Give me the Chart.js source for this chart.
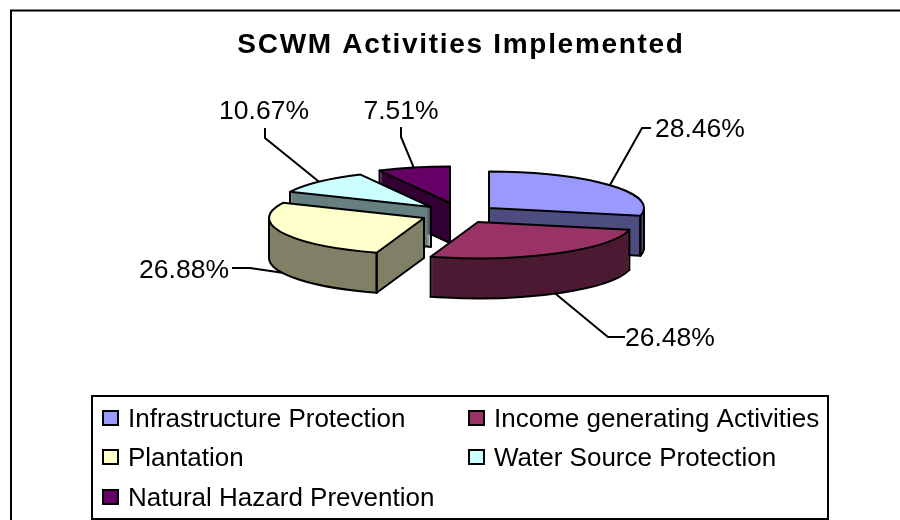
<!DOCTYPE html>
<html>
<head>
<meta charset="utf-8">
<style>html,body{margin:0;padding:0;background:#fff}canvas{display:block}</style>
<script src="https://cdn.jsdelivr.net/npm/chart.js@4"></script>
</head>
<body>
<canvas id="c" width="900" height="520"></canvas>
<script>
const categories = ['Infrastructure Protection','Income generating Activities','Plantation','Water Source Protection','Natural Hazard Prevention'];
const shares = [28.46,26.48,26.88,10.67,7.51];
const chartTitle = 'SCWM Activities Implemented';
const faceColors = ['#9999ff','#993366','#ffffcc','#ccffff','#660066'];
const wallColors = ['#4d4d80','#4d1a33','#808066','#668080','#330033'];

// layout of the exploded 3D look
const apexes = [[489,208],[478,222],[424,218],[431,207],[450,203]];
const paintOrder = [4,3,0,2,1];
const TILT = 0.235, DEPTH = 40, RADIUS = 155;
const labelAnchors = [[655,130],[625,339],[229,271],[264,112],[401,112]];
const labelAligns = ['left','left','right','center','center'];
const leaderElbows = [[[651,128],[642,128]],[[625,337],[608,337]],[[232,268],[250,268]],[[265,128],[265,138]],[[401,127],[401,137]]];
const LABEL_FONT = '26.5px "Liberation Sans", Arial, sans-serif';
const LEGEND_FONT = '26px "Liberation Sans", Arial, sans-serif';
const legendBox = {l:92,t:396,r:828,b:519};
const legendCells = [[103,418],[469,418],[103,457],[469,457],[103,497]];
const LEGEND_TEXT_DY = 1.5;

const pie3d = {
  id:'pie3d',
  beforeDraw(chart){
    const c = chart.ctx;
    c.save();
    c.fillStyle='#fff'; c.fillRect(0,0,900,520);
    c.strokeStyle='#000'; c.lineWidth=2;
    c.beginPath(); c.moveTo(11,520); c.lineTo(11,10.5); c.lineTo(900,10.5); c.stroke();
    c.restore();
    c.letterSpacing='1.7px';
  },
  beforeDatasetsDraw(chart){
    const c = chart.ctx, arcs = chart.getDatasetMeta(0).data;
    c.letterSpacing='0px';
    const pt = (i,th,r,dy)=>[apexes[i][0]+r*Math.cos(th), apexes[i][1]+dy+TILT*r*Math.sin(th)];
    const line = (pts)=>{c.beginPath();pts.forEach((p,k)=>k?c.lineTo(p[0],p[1]):c.moveTo(p[0],p[1]));c.stroke();};
    const TAU=Math.PI*2;
    paintOrder.forEach(i=>{
      const arc = arcs[i], a=arc.startAngle, b=arc.endAngle, R=arc.outerRadius, ax=apexes[i][0], ay=apexes[i][1];
      // extruded body, drawn with the library's arc element
      const wall = Object.create(arc);
      wall.options = Object.assign({},arc.options,{backgroundColor:wallColors[i],borderWidth:0});
      for(let k=DEPTH;k>=1;k--){
        c.save();
        c.translate(ax,ay+k); c.scale(1,TILT); c.translate(-arc.x,-arc.y);
        wall.draw(c);
        c.restore();
      }
      // edges of the body
      c.save();
      c.strokeStyle='#000'; c.lineWidth=2; c.lineJoin='round'; c.lineCap='round';
      const startWall = Math.cos(a)<-1e-6, endWall = Math.cos(b)>1e-6;
      // front rim
      const from = [];
      for(let n=-1;n<=1;n++){
        const s=Math.max(a,n*TAU), e=Math.min(b,n*TAU+Math.PI);
        if(e>s) from.push([s,e]);
      }
      from.forEach(([s,e])=>{
        c.beginPath(); c.ellipse(ax,ay+DEPTH,R,R*TILT,0,s,e); c.stroke();
        [s,e].forEach(t=>{const p=pt(i,t,R,0);line([p,[p[0],p[1]+DEPTH]]);});
      });
      if(startWall){const p=pt(i,a,R,0);line([p,[p[0],p[1]+DEPTH],[ax,ay+DEPTH],[ax,ay]]);}
      if(endWall){const p=pt(i,b,R,0);line([p,[p[0],p[1]+DEPTH],[ax,ay+DEPTH],[ax,ay]]);}
      c.restore();
      // top face
      c.save();
      c.translate(ax,ay); c.scale(1,TILT); c.translate(-arc.x,-arc.y);
      arc.draw(c);
      c.restore();
      c.save();
      c.strokeStyle='#000'; c.lineWidth=2; c.lineJoin='round';
      c.beginPath(); c.moveTo(ax,ay); c.ellipse(ax,ay,R,R*TILT,0,a,b); c.closePath(); c.stroke();
      c.restore();
    });
    return false;
  },
  afterDraw(chart){
    const c = chart.ctx, arcs = chart.getDatasetMeta(0).data;
    c.save();
    c.letterSpacing='0px';
    // leaders and percentage labels
    c.strokeStyle='#000'; c.lineWidth=2; c.fillStyle='#000';
    c.font=LABEL_FONT; c.textBaseline='middle';
    shares.forEach((v,i)=>{
      const arc=arcs[i], m=(arc.startAngle+arc.endAngle)/2, R=arc.outerRadius;
      const x=apexes[i][0]+R*Math.cos(m), y=apexes[i][1]+TILT*R*Math.sin(m)+(Math.sin(m)>0?DEPTH:0);
      c.beginPath(); c.moveTo(x,y);
      leaderElbows[i].slice().reverse().forEach(p=>c.lineTo(p[0],p[1]));
      c.stroke();
      c.textAlign=labelAligns[i];
      c.fillText(v.toFixed(2)+'%',labelAnchors[i][0],labelAnchors[i][1]);
    });
    // legend
    c.lineWidth=2; c.strokeStyle='#000';
    c.strokeRect(legendBox.l,legendBox.t,legendBox.r-legendBox.l,legendBox.b-legendBox.t);
    c.font=LEGEND_FONT; c.textAlign='left';
    categories.forEach((name,i)=>{
      const [x,y]=legendCells[i];
      c.fillStyle=faceColors[i];
      c.fillRect(x,y-7,15,14);
      c.strokeRect(x,y-7,15,14);
      c.fillStyle='#000';
      c.fillText(name,x+25,y+LEGEND_TEXT_DY);
    });
    c.restore();
  }
};

new Chart(document.getElementById('c'),{
  type:'pie',
  data:{labels:categories,datasets:[{data:shares,backgroundColor:faceColors,borderWidth:0}]},
  options:{
    responsive:false,animation:false,
    radius:RADIUS,
    layout:{padding:{left:22}},
    events:[],
    plugins:{
      legend:{display:false},tooltip:{enabled:false},
      title:{display:true,text:chartTitle,color:'#000',align:'center',
        font:{family:'"Liberation Sans", Arial, sans-serif',size:28,weight:'bold'},
        padding:{top:28,bottom:8}}
    }
  },
  plugins:[pie3d]
});
</script>
</body>
</html>
